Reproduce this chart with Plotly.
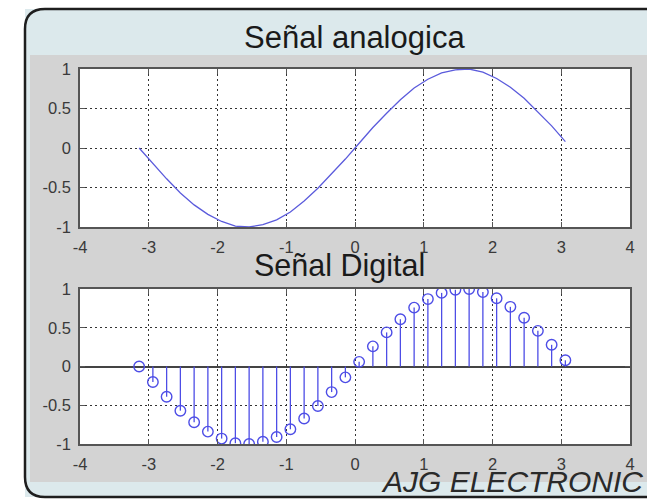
import plotly.graph_objects as go

# ---- data ----
x_vals = [-3.14, -2.94, -2.74, -2.54, -2.34, -2.14, -1.94, -1.74, -1.54, -1.34,
          -1.14, -0.94, -0.74, -0.54, -0.34, -0.14, 0.06, 0.26, 0.46, 0.66,
          0.86, 1.06, 1.26, 1.46, 1.66, 1.86, 2.06, 2.26, 2.46, 2.66, 2.86, 3.06]
y_vals = [0.00, -0.20, -0.39, -0.57, -0.72, -0.84, -0.93, -0.99, -1.00, -0.97,
          -0.91, -0.81, -0.67, -0.51, -0.33, -0.14, 0.06, 0.26, 0.44, 0.61,
          0.76, 0.87, 0.95, 0.99, 1.00, 0.96, 0.88, 0.77, 0.63, 0.46, 0.28, 0.08]
x_ticks = [-4, -3, -2, -1, 0, 1, 2, 3, 4]
x_ticktext = ["-4", "-3", "-2", "-1", "0", "1", "2", "3", "4"]
y_ticks = [-1, -0.5, 0, 0.5, 1]
y_ticktext = ["-1", "-0.5", "0", "0.5", "1"]
title_top = "Señal analogica"
title_bottom = "Señal Digital"
watermark = "AJG ELECTRONIC"

W, H = 647, 500

def px(x):
    return x / W
def py(y):
    return 1 - y / H

# plot area pixel boxes
L, R = 80, 630
T1, B1 = 69, 227
T2, B2 = 289, 444

LINE_BLUE = "#5b5bdc"
STEM_BLUE = "#4d4de6"
FONT = "Liberation Sans, Arial, sans-serif"

fig = go.Figure()
fig.add_trace(go.Scatter(x=x_vals, y=y_vals, mode="lines",
                         line=dict(color=LINE_BLUE, width=1.3),
                         xaxis="x", yaxis="y", showlegend=False, hoverinfo="skip"))

sx, sy = [], []
for xv, yv in zip(x_vals, y_vals):
    sx += [xv, xv, None]
    sy += [0, yv, None]
fig.add_trace(go.Scatter(x=sx, y=sy, mode="lines",
                         line=dict(color=STEM_BLUE, width=1.3),
                         xaxis="x2", yaxis="y2", showlegend=False, hoverinfo="skip"))
fig.add_trace(go.Scatter(x=x_vals, y=y_vals, mode="markers",
                         marker=dict(symbol="circle-open", size=10.5,
                                     color=STEM_BLUE, line=dict(width=1.4)),
                         xaxis="x2", yaxis="y2", showlegend=False))

def P(a, b):
    return f"{px(a):.5f},{py(b):.5f}"

def open_frame(x0, y0, x1, y1, r):
    # frame continuing past the right edge: stroke top, left and bottom only
    return ("M" + P(x1, y0) + " L" + P(x0 + r, y0) +
            " Q" + P(x0, y0) + " " + P(x0, y0 + r) +
            " L" + P(x0, y1 - r) +
            " Q" + P(x0, y1) + " " + P(x0 + r, y1) +
            " L" + P(x1, y1))

def box(x0, y0, x1, y1):
    return "M" + P(x0, y0) + " L" + P(x1, y0) + " L" + P(x1, y1) + " L" + P(x0, y1) + " Z"

shapes = [
    dict(type="path", xref="paper", yref="paper", layer="below",
         path=box(25, 9, W, 497), fillcolor="#dce9ec", line=dict(width=0)),
    dict(type="path", xref="paper", yref="paper", layer="below",
         path=open_frame(25, 9, W, 497, 20),
         fillcolor="rgba(0,0,0,0)", line=dict(color="#1e1e1e", width=2.5)),
    dict(type="path", xref="paper", yref="paper", layer="below",
         path=box(30, 55, W, 482), fillcolor="#d3d3d3", line=dict(width=0)),
    dict(type="path", xref="paper", yref="paper", layer="below",
         path=box(L, T1, R, B1), fillcolor="white", line=dict(width=0)),
    dict(type="path", xref="paper", yref="paper", layer="below",
         path=box(L, T2, R, B2), fillcolor="white", line=dict(width=0)),
]

def xax(domain, anchor):
    return dict(domain=domain, anchor=anchor, range=[-4, 4],
                tickvals=x_ticks, ticktext=x_ticktext, automargin=False,
                showgrid=True, gridcolor="#333333", griddash="2px,3px", gridwidth=1.1,
                showline=True, linecolor="#555555", linewidth=1.6, mirror="ticks",
                ticks="inside", ticklen=5, tickcolor="#555555",
                tickfont=dict(family=FONT, size=16.5, color="#3a3a3a"),
                ticklabelstandoff=4, zeroline=False, fixedrange=True)

def yax(domain, anchor, zl):
    return dict(domain=domain, anchor=anchor, range=[-1, 1],
                tickvals=y_ticks, ticktext=y_ticktext, automargin=False,
                showgrid=True, gridcolor="#333333", griddash="2px,3px", gridwidth=1.1,
                showline=True, linecolor="#555555", linewidth=1.6, mirror="ticks",
                ticks="inside", ticklen=5, tickcolor="#555555",
                tickfont=dict(family=FONT, size=16.5, color="#3a3a3a"),
                ticklabelstandoff=4, zeroline=zl, zerolinecolor="#444444",
                zerolinewidth=1.6, fixedrange=True)

fig.update_layout(
    width=W, height=H, margin=dict(l=0, r=0, t=0, b=0, pad=0, autoexpand=False),
    paper_bgcolor="white", plot_bgcolor="rgba(0,0,0,0)",
    xaxis=xax([px(L), px(R)], "y"),
    yaxis=yax([py(B1), py(T1)], "x", False),
    xaxis2=xax([px(L), px(R)], "y2"),
    yaxis2=yax([py(B2), py(T2)], "x2", True),
    shapes=shapes,
    annotations=[
        dict(text=title_top, xref="paper", yref="paper", x=px(354), y=py(38),
             xanchor="center", yanchor="middle",
             showarrow=False, font=dict(family=FONT, size=31, color="#1a1a1a")),
        dict(text=title_bottom, xref="paper", yref="paper", x=px(339), y=py(265),
             xanchor="center", yanchor="middle",
             showarrow=False, font=dict(family=FONT, size=30.5, color="#1a1a1a")),
        dict(text="<i>" + watermark + "</i>", xref="paper", yref="paper",
             x=px(645), y=py(481), xanchor="right", yanchor="middle",
             showarrow=False, font=dict(family=FONT, size=30, color="#2a2a2a")),
    ],
)

fig.write_html("out.html", config={"displayModeBar": False},
               post_script="document.body.style.margin='0';document.body.style.overflow='hidden';")
